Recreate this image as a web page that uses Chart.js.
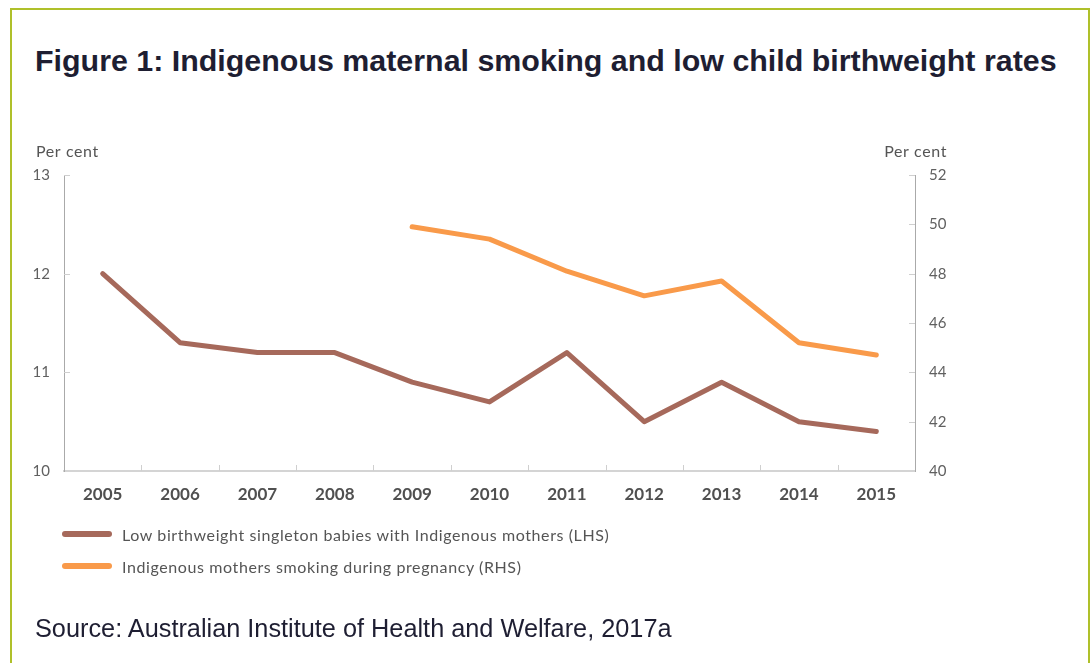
<!DOCTYPE html>
<html>
<head>
<meta charset="utf-8">
<script src="https://cdn.jsdelivr.net/npm/chart.js@4.4.1/dist/chart.umd.min.js"></script>
<style>
    html, body { margin: 0; padding: 0; background: #fff; }
    body { width: 1091px; height: 663px; position: relative; overflow: hidden; }
    .frame {
        position: absolute; left: 10px; top: 8px; width: 1080px; height: 720px;
        border: 2px solid #afc02a; box-sizing: border-box;
    }
    #chart { position: absolute; left: 0; top: 0; }
    .title {
        position: absolute; left: 35px; top: 45px; margin: 0;
        font: bold 30.4px "Liberation Sans", Arial, sans-serif; line-height: 30px;
        color: #1e1e32; white-space: nowrap;
    }
    .source {
        position: absolute; left: 35px; top: 616px;
        font: 25.3px "Liberation Sans", Arial, sans-serif; line-height: 25px;
        color: #1e1e32; white-space: nowrap;
    }
    .legend { position: absolute; left: 62px; top: 522px; }
    .legend-item { display: flex; align-items: center; height: 24px; margin-bottom: 8px; }
    .legend-swatch { width: 50px; height: 6px; border-radius: 3px; margin-right: 10px; }
    .legend-label { font: 16px Lato, sans-serif; letter-spacing: 0.6px; color: #555; white-space: nowrap; }
</style>
</head>
<body>
<div class="frame"></div>
<h1 class="title">Figure 1: Indigenous maternal smoking and low child birthweight rates</h1>
<canvas id="chart" width="1091" height="663"></canvas>
<div class="legend" id="legend"></div>
<div class="source">Source: Australian Institute of Health and Welfare, 2017a</div>

<script>
    // Chart data
    const years = ['2005', '2006', '2007', '2008', '2009', '2010', '2011', '2012', '2013', '2014', '2015'];
    const lowBirthweight = [12.0, 11.3, 11.2, 11.2, 10.9, 10.7, 11.2, 10.5, 10.9, 10.5, 10.4];
    const smokingPregnancy = [null, null, null, null, 49.9, 49.4, 48.1, 47.1, 47.7, 45.2, 44.7];
    const seriesLabels = [
        'Low birthweight singleton babies with Indigenous mothers (LHS)',
        'Indigenous mothers smoking during pregnancy (RHS)'
    ];
    const seriesColors = ['#a6695b', '#f99a4a'];
    const axisTitle = 'Per cent';

    const tickFont = { family: 'Lato', size: 15 };

    // Small inward tick marks and the "Per cent" headings over the y axes
    const axisDecor = {
        id: 'axisDecor',
        afterDraw(chart) {
            const ctx = chart.ctx;
            const area = chart.chartArea;
            const x = chart.scales.x, yl = chart.scales.y, yr = chart.scales.y1;
            const len = 6;
            ctx.save();
            ctx.strokeStyle = '#cfcfcf';
            ctx.lineWidth = 1;
            ctx.beginPath();
            for (let i = 0; i < years.length - 1; i++) {
                const px = Math.round((x.getPixelForValue(i) + x.getPixelForValue(i + 1)) / 2) + 0.5;
                ctx.moveTo(px, area.bottom);
                ctx.lineTo(px, area.bottom - len);
            }
            yl.ticks.forEach(t => {
                if (t.value === yl.min) return;
                const py = Math.round(yl.getPixelForValue(t.value)) + 0.5;
                ctx.moveTo(area.left, py);
                ctx.lineTo(area.left + len, py);
            });
            yr.ticks.forEach(t => {
                if (t.value === yr.min) return;
                const py = Math.round(yr.getPixelForValue(t.value)) + 0.5;
                ctx.moveTo(area.right, py);
                ctx.lineTo(area.right - len, py);
            });
            ctx.stroke();

            ctx.fillStyle = '#555';
            ctx.font = '16px Lato';
            ctx.letterSpacing = '0.6px';
            ctx.textBaseline = 'middle';
            ctx.textAlign = 'left';
            ctx.fillText(axisTitle, area.left - 28, area.top - 23);
            ctx.textAlign = 'right';
            ctx.fillText(axisTitle, area.right + 32, area.top - 23);
            ctx.restore();
        }
    };

    const chart = new Chart(document.getElementById('chart'), {
        type: 'line',
        data: {
            labels: years,
            datasets: [{
                label: seriesLabels[0],
                data: lowBirthweight,
                yAxisID: 'y',
                borderColor: seriesColors[0],
                backgroundColor: seriesColors[0],
                borderWidth: 5,
                borderCapStyle: 'round',
                borderJoinStyle: 'round',
                pointRadius: 0,
                tension: 0
            }, {
                label: seriesLabels[1],
                data: smokingPregnancy,
                yAxisID: 'y1',
                borderColor: seriesColors[1],
                backgroundColor: seriesColors[1],
                borderWidth: 5,
                borderCapStyle: 'round',
                borderJoinStyle: 'round',
                pointRadius: 0,
                tension: 0
            }]
        },
        options: {
            responsive: false,
            animation: false,
            layout: { padding: { left: 30, right: 136, top: 175, bottom: 142 } },
            plugins: {
                legend: { display: false },
                tooltip: { enabled: false }
            },
            scales: {
                x: {
                    offset: true,
                    grid: { display: false },
                    border: { color: '#d4d4d4', width: 2 },
                    ticks: {
                        padding: 5,
                        color: '#505050',
                        font: { family: 'Lato', size: 17, weight: 'bold' },
                        maxRotation: 0
                    },
                    afterFit(scale) { scale.height = 50; }
                },
                y: {
                    position: 'left',
                    min: 10,
                    max: 13,
                    grid: { display: false, drawTicks: false },
                    border: { color: '#aaaaaa', width: 1 },
                    ticks: { stepSize: 1, padding: 14, color: '#606060', font: tickFont },
                    afterFit(scale) { scale.width = 34; }
                },
                y1: {
                    position: 'right',
                    min: 40,
                    max: 52,
                    grid: { display: false, drawTicks: false },
                    border: { color: '#aaaaaa', width: 1 },
                    ticks: { stepSize: 2, padding: 14, color: '#606060', font: tickFont },
                    afterFit(scale) { scale.width = 40; }
                }
            }
        },
        plugins: [axisDecor]
    });

    // HTML legend built from the dataset labels
    const legendEl = document.getElementById('legend');
    seriesLabels.forEach((label, i) => {
        const item = document.createElement('div');
        item.className = 'legend-item';
        item.innerHTML = `<span class="legend-swatch" style="background:${seriesColors[i]}"></span>` +
            `<span class="legend-label">${label}</span>`;
        legendEl.appendChild(item);
    });
</script>
</body>
</html>
